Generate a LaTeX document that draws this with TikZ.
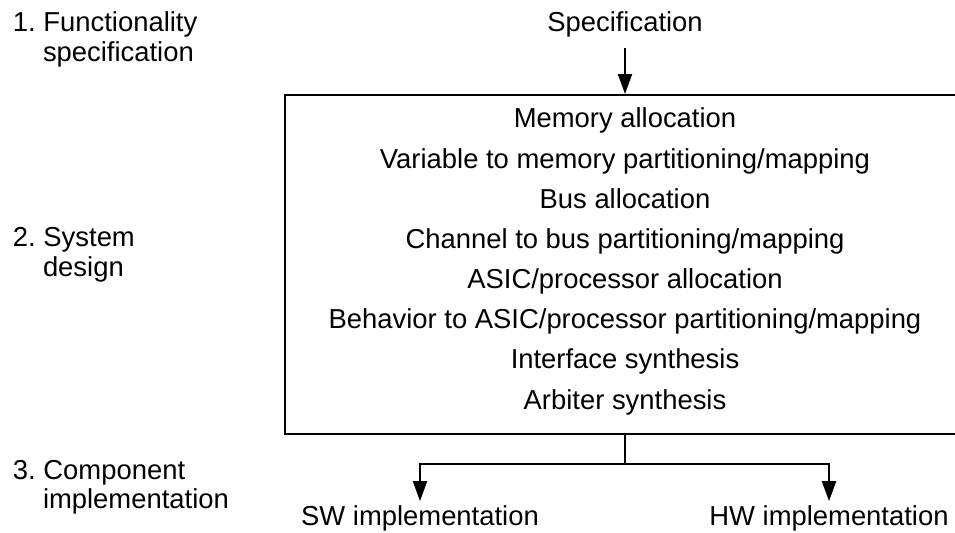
\documentclass[tikz,border=0pt]{standalone}
\usepackage{fontspec}
\setmainfont{Liberation Sans}
\usetikzlibrary{arrows.meta}

\begin{document}
\begin{tikzpicture}[x=0.02cm, y=-0.02cm, line width=0.04cm,
    every node/.style={font=\fontsize{15.6}{18}\selectfont\frenchspacing},
    lbl/.style={anchor=base west, inner sep=0},
    txt/.style={anchor=base, inner sep=0},
    flow/.style={-{Triangle[length=0.4cm, width=0.28cm]}}]
  \useasboundingbox (0,0) rectangle (955,533);
  % levels on the left
  \node (lvlone) [lbl] at (12,32) {1. Functionality};
  \node (lvloneb) [lbl] at (42,62) {specification};
  \node (lvltwo) [lbl] at (12,247) {2. System};
  \node (lvltwob) [lbl] at (42,276) {design};
  \node (lvlthree) [lbl] at (12,479) {3. Component};
  \node (lvlthreeb) [lbl] at (42,508) {implementation};
  % system design box
  \node (spec) [anchor=base, inner sep=0.18cm] at (625,32) {Specification};
  \node (sysbox) [draw, minimum width=13.6cm, minimum height=6.78cm, inner sep=0] at (625,264.5) {};
  \foreach \task [count=\i] in {Memory allocation,
      Variable to memory partitioning/mapping,
      Bus allocation,
      Channel to bus partitioning/mapping,
      ASIC/processor allocation,
      Behavior to ASIC/processor partitioning/mapping,
      Interface synthesis,
      Arbiter synthesis}
    \node (task\i) [txt] at (625,{128+40.15*(\i-1)}) {\task};
  % implementations
  \node (swimpl) [anchor=base, inner sep=0.06cm] at (420,525) {SW implementation};
  \node (hwimpl) [anchor=base, inner sep=0.06cm] at (829,525) {HW implementation};
  \draw[flow] (spec.south) -- (sysbox.north);
  \draw (sysbox.south) -- ++(0,29) coordinate (split);
  \draw[flow] (split) -| (swimpl.north);
  \draw[flow] (split) -| (hwimpl.north);
\end{tikzpicture}
\end{document}
